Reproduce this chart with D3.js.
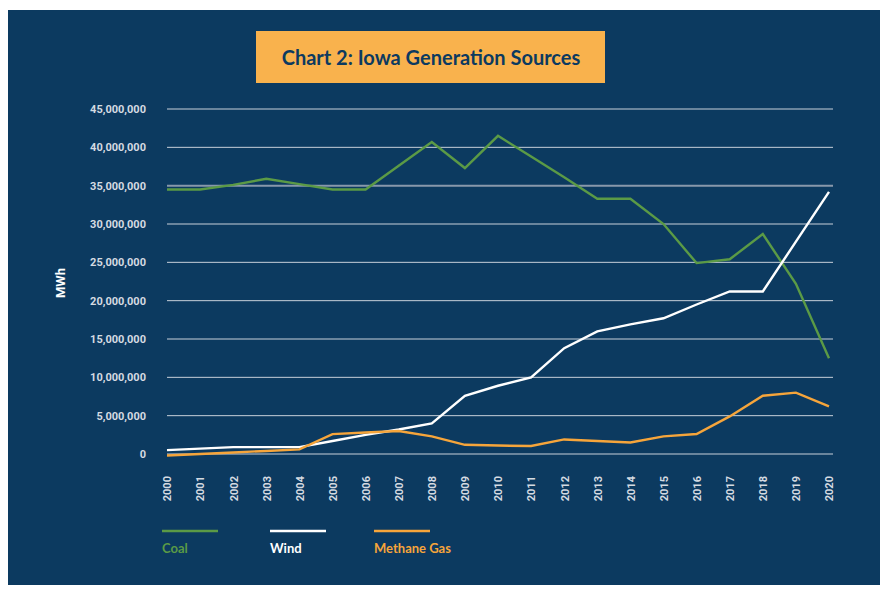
<!DOCTYPE html>
<html>
<head>
<meta charset="utf-8">
<script src="https://cdn.jsdelivr.net/npm/d3@7"></script>
<style>
  body { margin: 0; background: #fff; }
  svg { display: block; }
</style>
</head>
<body>
<div id="chart"></div>
<script>
// values in MWh
const years = d3.range(2000, 2021);
const coal = [34.5, 34.5, 35.1, 35.9, 35.2, 34.5, 34.5, 37.6, 40.7, 37.3, 41.5,
              38.8, 36.1, 33.3, 33.3, 30.0, 24.9, 25.4, 28.7, 22.2, 12.5].map(d => d * 1e6);
const wind = [0.5, 0.7, 0.9, 0.9, 0.9, 1.7, 2.5, 3.2, 4.0, 7.6, 8.9,
              10.0, 13.8, 16.0, 16.9, 17.7, 19.5, 21.2, 21.2, 27.7, 34.2].map(d => d * 1e6);
const methane = [-0.2, 0.0, 0.2, 0.4, 0.6, 2.6, 2.8, 3.0, 2.3, 1.2, 1.1,
                 1.05, 1.9, 1.7, 1.5, 2.3, 2.6, 4.9, 7.6, 8.0, 6.2].map(d => d * 1e6);
const yTicks = d3.range(0, 45000001, 5000000);

const series = [
  {name: "Coal", values: coal, color: "#5b9a46"},
  {name: "Wind", values: wind, color: "#ffffff"},
  {name: "Methane Gas", values: methane, color: "#f6a53b"}
];

const W = 888, H = 598;
const svg = d3.select("#chart").append("svg")
    .attr("width", W)
    .attr("height", H);

// dark panel
svg.append("rect")
    .attr("x", 8).attr("y", 10)
    .attr("width", 872).attr("height", 575)
    .attr("fill", "#0c3a60");

// title box
svg.append("rect")
    .attr("x", 256).attr("y", 31)
    .attr("width", 349).attr("height", 52)
    .attr("fill", "#f9b24d");
svg.append("text")
    .attr("x", 431).attr("y", 57)
    .attr("text-anchor", "middle")
    .attr("dominant-baseline", "central")
    .attr("font-family", "Lato, sans-serif")
    .attr("font-weight", "bold")
    .attr("font-size", "20px")
    .attr("fill", "#0c3a60")
    .text("Chart 2: Iowa Generation Sources");

const x = d3.scalePoint().domain(years).range([167, 829]);
const y = d3.scaleLinear().domain([0, 45000000]).range([454, 109]);

// gridlines
svg.append("g")
  .selectAll("line")
  .data(yTicks)
  .enter()
  .append("line")
    .attr("x1", 167).attr("x2", 833)
    .attr("y1", d => y(d)).attr("y2", d => y(d))
    .attr("stroke", d => d === 35000000 ? "#8898ab" : "#c8d0da")
    .attr("stroke-width", d => d === 35000000 ? 2 : 1);

// y axis labels
const yAxis = svg.append("g")
    .attr("transform", "translate(150,0)")
    .call(d3.axisLeft(y).tickValues(yTicks).tickSize(0).tickPadding(4)
      .tickFormat(d => d === 0 ? "0" : d3.format(",")(d)));
yAxis.select(".domain").remove();
yAxis.selectAll("text")
    .attr("font-family", "Roboto, sans-serif")
    .attr("font-weight", "bold")
    .attr("font-size", "11px")
    .attr("fill", "#d5dbe2");

// x axis labels (rotated)
const xAxis = svg.append("g")
    .attr("transform", "translate(0,470)")
    .call(d3.axisBottom(x).tickSize(0).tickPadding(0));
xAxis.select(".domain").remove();
xAxis.selectAll("text")
    .attr("transform", "rotate(-90)")
    .attr("text-anchor", "end")
    .attr("x", -6)
    .attr("y", 0)
    .attr("dy", "0.35em")
    .attr("font-family", "Roboto, sans-serif")
    .attr("font-weight", "bold")
    .attr("font-size", "11px")
    .attr("fill", "#d5dbe2");

// axis title
svg.append("text")
    .attr("transform", "translate(60,283) rotate(-90)")
    .attr("text-anchor", "middle")
    .attr("dominant-baseline", "central")
    .attr("font-family", "Roboto, sans-serif")
    .attr("font-weight", "bold")
    .attr("font-size", "13px")
    .attr("fill", "#ffffff")
    .text("MWh");

// lines
const line = d3.line()
    .x((d, i) => x(years[i]))
    .y(d => y(d));

svg.append("g")
  .selectAll("path")
  .data(series)
  .enter()
  .append("path")
    .attr("d", d => line(d.values))
    .attr("fill", "none")
    .attr("stroke", d => d.color)
    .attr("stroke-width", 2.4)
    .attr("stroke-linejoin", "miter");

// legend
const legendX = [162, 270, 374];
const legend = svg.append("g")
  .selectAll("g")
  .data(series)
  .enter()
  .append("g")
    .attr("transform", (d, i) => `translate(${legendX[i]},0)`);
legend.append("line")
    .attr("x1", 0).attr("x2", 56)
    .attr("y1", 531).attr("y2", 531)
    .attr("stroke", d => d.color)
    .attr("stroke-width", 2.5);
legend.append("text")
    .attr("x", 0).attr("y", 548)
    .attr("dominant-baseline", "central")
    .attr("font-family", "Lato, sans-serif")
    .attr("font-weight", "bold")
    .attr("font-size", "13px")
    .attr("fill", d => d.color)
    .text(d => d.name);
</script>
</body>
</html>
